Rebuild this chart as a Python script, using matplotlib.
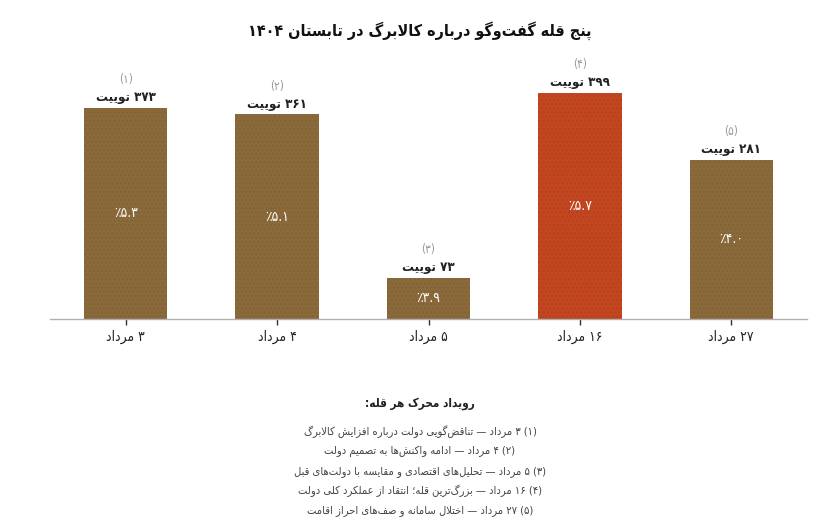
import matplotlib
matplotlib.use("Agg")
import matplotlib.pyplot as plt

# data
dates = ["۳ مرداد", "۴ مرداد", "۵ مرداد", "۱۶ مرداد", "۲۷ مرداد"]
tweets = [373, 361, 73, 399, 281]
tweet_labels = ["۳۷۳ توییت", "۳۶۱ توییت", "۷۳ توییت", "۳۹۹ توییت", "۲۸۱ توییت"]
shares = ["٪۵.۳", "٪۵.۱", "٪۳.۹", "٪۵.۷", "٪۴.۰"]
peak_ids = ["(۱)", "(۲)", "(۳)", "(۴)", "(۵)"]
peak_idx = 3
title = "پنج قله گفت‌وگو درباره کالابرگ در تابستان ۱۴۰۴"
notes_title = "رویداد محرک هر قله:"
notes = [
    "(۱) ۳ مرداد — تناقض‌گویی دولت درباره افزایش کالابرگ",
    "(۲) ۴ مرداد — ادامه واکنش‌ها به تصمیم دولت",
    "(۳) ۵ مرداد — تحلیل‌های اقتصادی و مقایسه با دولت‌های قبل",
    "(۴) ۱۶ مرداد — بزرگ‌ترین قله؛ انتقاد از عملکرد کلی دولت",
    "(۵) ۲۷ مرداد — اختلال سامانه و صف‌های احراز اقامت",
]

BROWN = "#8a6a3a"
RED = "#c2461f"

# presentation forms: iso, fin, init, med (2 entries -> right joining only)
FORMS = {
    "ا": (0xFE8D, 0xFE8E), "آ": (0xFE81, 0xFE82), "د": (0xFEA9, 0xFEAA),
    "ذ": (0xFEAB, 0xFEAC), "ر": (0xFEAD, 0xFEAE), "ز": (0xFEAF, 0xFEB0),
    "ژ": (0xFB8A, 0xFB8B), "و": (0xFEED, 0xFEEE),
    "ب": (0xFE8F, 0xFE90, 0xFE91, 0xFE92), "پ": (0xFB56, 0xFB57, 0xFB58, 0xFB59),
    "ت": (0xFE95, 0xFE96, 0xFE97, 0xFE98), "ث": (0xFE99, 0xFE9A, 0xFE9B, 0xFE9C),
    "ج": (0xFE9D, 0xFE9E, 0xFE9F, 0xFEA0), "چ": (0xFB7A, 0xFB7B, 0xFB7C, 0xFB7D),
    "ح": (0xFEA1, 0xFEA2, 0xFEA3, 0xFEA4), "خ": (0xFEA5, 0xFEA6, 0xFEA7, 0xFEA8),
    "س": (0xFEB1, 0xFEB2, 0xFEB3, 0xFEB4), "ش": (0xFEB5, 0xFEB6, 0xFEB7, 0xFEB8),
    "ص": (0xFEB9, 0xFEBA, 0xFEBB, 0xFEBC), "ض": (0xFEBD, 0xFEBE, 0xFEBF, 0xFEC0),
    "ط": (0xFEC1, 0xFEC2, 0xFEC3, 0xFEC4), "ظ": (0xFEC5, 0xFEC6, 0xFEC7, 0xFEC8),
    "ع": (0xFEC9, 0xFECA, 0xFECB, 0xFECC), "غ": (0xFECD, 0xFECE, 0xFECF, 0xFED0),
    "ف": (0xFED1, 0xFED2, 0xFED3, 0xFED4), "ق": (0xFED5, 0xFED6, 0xFED7, 0xFED8),
    "ک": (0xFB8E, 0xFB8F, 0xFB90, 0xFB91), "گ": (0xFB92, 0xFB93, 0xFB94, 0xFB95),
    "ل": (0xFEDD, 0xFEDE, 0xFEDF, 0xFEE0), "م": (0xFEE1, 0xFEE2, 0xFEE3, 0xFEE4),
    "ن": (0xFEE5, 0xFEE6, 0xFEE7, 0xFEE8), "ه": (0xFEE9, 0xFEEA, 0xFEEB, 0xFEEC),
    "ی": (0xFBFC, 0xFBFD, 0xFBFE, 0xFBFF),
}
NUMCH = set("۰۱۲۳۴۵۶۷۸۹0123456789.٪%")
MIRROR = {"(": ")", ")": "("}


def shape(text):
    # contextual joining with presentation forms, logical order kept
    out = []
    i = 0
    prev_joins = False
    while i < len(text):
        c = text[i]
        if c == "ل" and i + 1 < len(text) and text[i + 1] == "ا":
            out.append(chr(0xFEFC if prev_joins else 0xFEFB))
            prev_joins = False
            i += 2
            continue
        if c not in FORMS:
            if c != "\u200c":
                out.append(c)
            prev_joins = False
            i += 1
            continue
        f = FORMS[c]
        nxt = text[i + 1] if i + 1 < len(text) else ""
        next_ok = len(f) == 4 and nxt in FORMS
        if prev_joins and next_ok:
            out.append(chr(f[3]))
        elif prev_joins:
            out.append(chr(f[1]))
        elif next_ok:
            out.append(chr(f[2]))
        else:
            out.append(chr(f[0]))
        prev_joins = next_ok
        i += 1
    return "".join(out)


def fa(text):
    # right-to-left line: reverse everything, keep number runs left-to-right
    s = shape(text)
    runs = []
    cur = ""
    cur_num = None
    for ch in s:
        num = ch in NUMCH
        if cur and num != cur_num:
            runs.append((cur, cur_num))
            cur = ""
        cur += ch
        cur_num = num
    if cur:
        runs.append((cur, cur_num))
    vis = []
    for r, num in reversed(runs):
        if num:
            vis.append(r)
        else:
            vis.append("".join(MIRROR.get(ch, ch) for ch in reversed(r)))
    return "".join(vis)


plt.rcParams["font.family"] = ["DejaVu Sans"]
plt.rcParams["font.stretch"] = "condensed"

fig = plt.figure(figsize=(8.4, 5.32), dpi=100)
ax = fig.add_axes([50 / 840, 213 / 532, 757 / 840, 255 / 532])

x = list(range(len(tweets)))
colors = [RED if i == peak_idx else BROWN for i in x]
bars = ax.bar(x, tweets, width=0.55, color=colors, zorder=2)
for b in bars:
    b.set_hatch("....")
    b.set_edgecolor((0, 0, 0, 0.06))
    b.set_linewidth(0)

ax.set_xlim(-0.5, 4.5)
ax.set_ylim(0, 450)
ax.set_yticks([])
for s in ["top", "right", "left"]:
    ax.spines[s].set_visible(False)
ax.spines["bottom"].set_color("#b0b0b0")
ax.spines["bottom"].set_linewidth(1)
ax.set_xticks(x)
ax.set_xticklabels([fa(d) for d in dates], fontsize=10, color="#222222")
ax.tick_params(axis="x", length=4, width=1, color="#333333", pad=4)

for i, v in enumerate(tweets):
    ax.annotate(fa(tweet_labels[i]), (i, v), xytext=(0, 2.5), textcoords="offset points",
                ha="center", va="bottom", fontsize=9.5, fontweight="bold", color="#222222")
    ax.annotate(peak_ids[i], (i, v), xytext=(0, 15.5), textcoords="offset points",
                ha="center", va="bottom", fontsize=8.5, color="#999999")
    ax.text(i, v / 2, shares[i], ha="center", va="center", fontsize=10, color="white")

fig.text(0.5, 1 - 31 / 532, fa(title), ha="center", va="center",
         fontsize=11.5, fontweight="bold", color="#111111")
fig.text(0.5, 1 - 403 / 532, fa(notes_title), ha="center", va="center",
         fontsize=8.5, fontweight="bold", color="#222222")
for k, line in enumerate(notes):
    fig.text(0.5, 1 - (432 + k * 19.7) / 532, fa(line), ha="center", va="center",
             fontsize=8, color="#444444")

fig.savefig("out.png", dpi=100)
